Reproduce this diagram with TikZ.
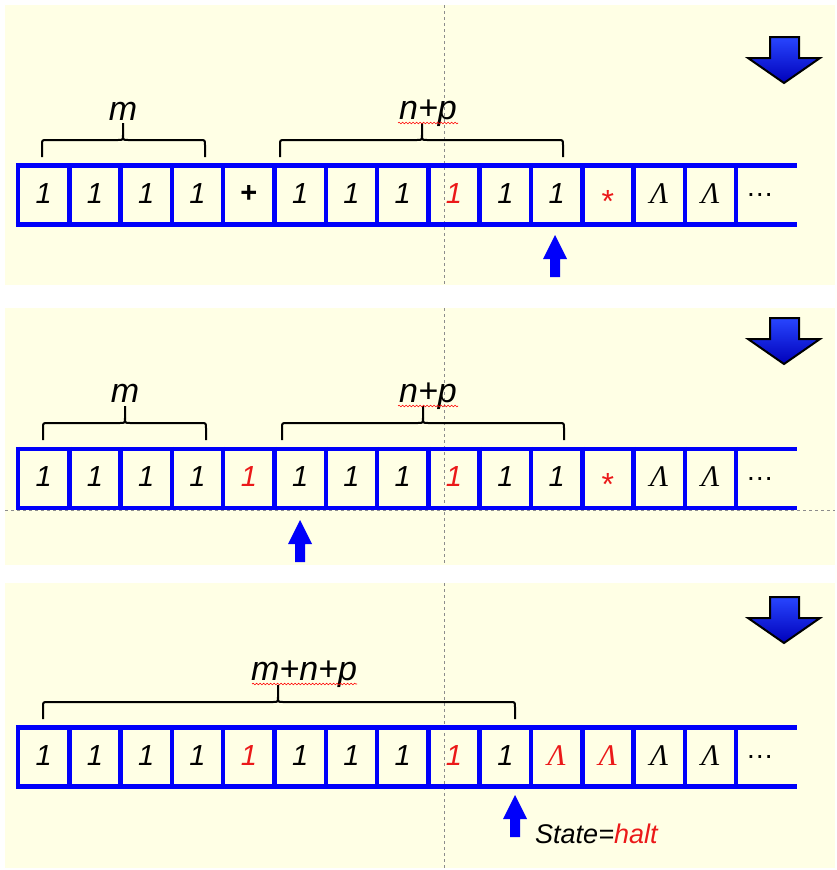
\documentclass[tikz,border=0pt]{standalone}
\usepackage{fontspec}
\setmainfont{Liberation Sans}
\newfontfamily\timesfont{Liberation Serif}
\usetikzlibrary{decorations.pathmorphing}
\definecolor{bg}{RGB}{255,255,229}
\definecolor{tblue}{RGB}{0,0,250}
\definecolor{tred}{RGB}{235,25,25}
\tikzset{
  panel/.style={fill=bg, draw=none},
  guide/.style={draw=black!45, line width=0.8pt, dash pattern=on 3pt off 3pt},
  tapeline/.style={draw=tblue, line width=4.5pt},
  one/.style={font=\fontsize{29}{32}\selectfont\itshape, inner sep=0pt, yshift=1.5pt},
  rone/.style={one, text=tred},
  plus/.style={font=\fontsize{29}{32}\selectfont\bfseries, inner sep=0pt, yshift=1.5pt},
  rstar/.style={font=\fontsize{32}{34}\selectfont, text=tred, inner sep=0pt, yshift=-6pt},
  lam/.style={font=\fontsize{30}{32}\selectfont\timesfont\itshape, inner sep=0pt, yshift=1.5pt},
  rlam/.style={lam, text=tred},
  dots/.style={font=\fontsize{28}{30}\selectfont, inner sep=0pt, xshift=-2pt},
  bracestyle/.style={draw=black, line width=2pt},
  lbl/.style={font=\fontsize{34}{36}\selectfont\itshape, inner sep=0pt, anchor=base},
  squig/.style={draw=red, line width=0.6pt, decorate, decoration={snake, amplitude=0.8pt, segment length=3.5pt}},
  headfill/.style={fill=tblue, draw=none},
  bigarrow/.style={draw=black, line width=2pt, line join=miter,
    top color={rgb,255:red,40;green,70;blue,255}, bottom color={rgb,255:red,0;green,0;blue,185}},
  statetxt/.style={font=\fontsize{27}{30}\selectfont\itshape, inner sep=0pt, anchor=base west}
}
\newcommand\drawtape[3]{%
  \foreach \i in {0,...,14}{\draw[tapeline] ({18+51.3*\i},{#1-2.25}) -- ({18+51.3*\i},{#1+61.25});}
  \draw[tapeline] (15.75,#1) -- (797,#1);
  \draw[tapeline] (15.75,{#1+59}) -- (797,{#1+59});
  \foreach \i/\txt/\sty in {#3}{\node[\sty] (#2c\i) at ({18+51.3*(\i+0.5)},{#1+29.5}) {\txt};}
}
\newcommand\hbrace[4]{%
  \draw[bracestyle] (#1,{#4+17}) -- (#1,{#4+5}) .. controls (#1,#4) .. ({#1+5},#4) -- ({#3-5},#4) .. controls (#3,#4) .. (#3,{#4-5}) -- (#3,{#4-17});
  \draw[bracestyle] (#3,{#4-5}) .. controls (#3,#4) .. ({#3+5},#4) -- ({#2-5},#4) .. controls (#2,#4) .. (#2,{#4+5}) -- (#2,{#4+17});
}
\newcommand\uparr[2]{%
  \fill[headfill] (#1,#2) -- ({#1+12},{#2+24}) -- ({#1+5},{#2+24}) -- ({#1+5},{#2+42}) -- ({#1-5},{#2+42}) -- ({#1-5},{#2+24}) -- ({#1-12},{#2+24}) -- cycle;
}
\newcommand\downarr[1]{%
  \draw[bigarrow] (770,#1) -- (799,#1) -- (799,{#1+21}) -- (820,{#1+21}) -- (784,{#1+46}) -- (748,{#1+21}) -- (770,{#1+21}) -- cycle;
}
\begin{document}
\begin{tikzpicture}[x=1pt,y=-1pt]
\useasboundingbox (0,0) rectangle (837,870);
\fill[white] (0,0) rectangle (837,870);
% panels
\fill[panel] (5,5) rectangle (835,285);
\fill[panel] (5,308) rectangle (835,565);
\fill[panel] (5,583) rectangle (835,868);
% guides
\draw[guide] (444,5) -- (444,285);
\draw[guide] (444,308) -- (444,565);
\draw[guide] (444,583) -- (444,868);
\draw[guide] (5,510) -- (835,510);
% ---- panel 1
\drawtape{165.5}{a}{0/1/one,1/1/one,2/1/one,3/1/one,4/+/plus,5/1/one,6/1/one,7/1/one,8/1/rone,9/1/one,10/1/one,11/*/rstar,12/Λ/lam,13/Λ/lam,14/…/dots}
\hbrace{42}{205}{123}{140}
\hbrace{280}{563}{422}{140}
\node[lbl] (am) at (123,120) {m};
\node[lbl] (anp) at (428,119) {n+p};
\draw[squig] (398,123) -- (458,123);
\uparr{555}{235}
\downarr{37}
% ---- panel 2
\drawtape{449}{b}{0/1/one,1/1/one,2/1/one,3/1/one,4/1/rone,5/1/one,6/1/one,7/1/one,8/1/rone,9/1/one,10/1/one,11/*/rstar,12/Λ/lam,13/Λ/lam,14/…/dots}
\hbrace{43}{206}{125}{423}
\hbrace{282}{564}{423}{423}
\node[lbl] (bm) at (125,402) {m};
\node[lbl] (bnp) at (428,402) {n+p};
\draw[squig] (398,406) -- (458,406);
\uparr{300}{520}
\downarr{318}
% ---- panel 3
\drawtape{727.5}{c}{0/1/one,1/1/one,2/1/one,3/1/one,4/1/rone,5/1/one,6/1/one,7/1/one,8/1/rone,9/1/one,10/Λ/rlam,11/Λ/rlam,12/Λ/lam,13/Λ/lam,14/…/dots}
\hbrace{43}{515}{278}{702}
\node[lbl] (cmnp) at (304,680) {m+n+p};
\draw[squig] (252,684) -- (357,684);
\uparr{515}{795}
\downarr{597}
\node[statetxt] (state) at (535,843) {State=\textcolor{tred}{halt}};
\end{tikzpicture}
\end{document}
